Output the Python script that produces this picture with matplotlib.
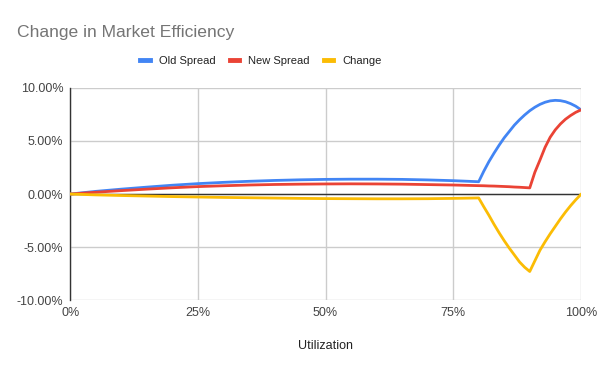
import matplotlib.pyplot as plt
from matplotlib.ticker import FuncFormatter

plt.rcParams['font.family'] = ['Liberation Sans', 'DejaVu Sans']

# utilization (%) and spreads (%)
util = [0, 5, 10, 15, 20, 25, 30, 35, 40, 45, 50, 55, 60, 65, 70, 75,
        80, 81, 82, 83, 84, 85, 86, 87, 88, 89, 90,
        91, 92, 93, 94, 95, 96, 97, 98, 99, 100]
old_spread = [0, 0.25, 0.46, 0.65, 0.83, 0.98, 1.10, 1.20, 1.28, 1.34, 1.38, 1.40, 1.40, 1.38, 1.33, 1.26,
              1.16, 2.15, 3.05, 3.85, 4.6, 5.3, 5.9, 6.5, 7.0, 7.45, 7.85,
              8.18, 8.45, 8.65, 8.78, 8.83, 8.80, 8.70, 8.52, 8.28, 7.95]
new_spread = [0, 0.17, 0.32, 0.46, 0.59, 0.70, 0.78, 0.85, 0.90, 0.93, 0.95, 0.96, 0.95, 0.93, 0.89, 0.85,
              0.79, 0.78, 0.76, 0.75, 0.73, 0.71, 0.69, 0.66, 0.64, 0.61, 0.58,
              2.05, 3.2, 4.4, 5.35, 6.05, 6.6, 7.05, 7.4, 7.7, 7.92]
change = [0, -0.08, -0.14, -0.19, -0.24, -0.28, -0.32, -0.35, -0.38, -0.41, -0.43, -0.44, -0.45, -0.45, -0.44, -0.41,
          -0.37, -1.2, -2.0, -2.85, -3.65, -4.4, -5.1, -5.75, -6.4, -6.9, -7.3,
          -6.3, -5.3, -4.5, -3.75, -3.05, -2.35, -1.7, -1.1, -0.55, -0.05]

x_ticks = [0, 25, 50, 75, 100]
y_ticks = [-10, -5, 0, 5, 10]

fig = plt.figure(figsize=(6, 3.71), dpi=100)
ax = fig.add_axes([0.117, 0.191, 0.851, 0.572])

ax.plot(util, old_spread, color='#4285F4', lw=2, label='Old Spread', zorder=3)
ax.plot(util, new_spread, color='#EA4335', lw=2, label='New Spread', zorder=3)
ax.plot(util, change, color='#FBBC04', lw=2, label='Change', zorder=3)

ax.axhline(0, color='#333333', lw=1, zorder=2)
ax.set_xlim(0, 100)
ax.set_ylim(-10, 10)
ax.set_xticks(x_ticks)
ax.set_yticks(y_ticks)
ax.xaxis.set_major_formatter(FuncFormatter(lambda v, p: f'{v:.0f}%'))
ax.yaxis.set_major_formatter(FuncFormatter(lambda v, p: f'{v:.2f}%'))
ax.grid(True, color='#cccccc', lw=1, zorder=0)
ax.tick_params(length=0, labelsize=9, colors='#444444', pad=5)
for s in ['top', 'right', 'bottom']:
    ax.spines[s].set_visible(False)
ax.spines['left'].set_color('#333333')
ax.spines['left'].set_linewidth(1)

ax.set_xlabel('Utilization', fontsize=9, color='#222222', labelpad=15)

fig.text(0.028, 0.913, 'Change in Market Efficiency', fontsize=12.6, color='#757575', va='center')
leg = fig.legend(loc='center', bbox_to_anchor=(0.435, 0.835), ncol=3, frameon=False, fontsize=8,
                 handlelength=0.85, handletextpad=0.8, columnspacing=1.3, labelcolor='#222222')
for h in leg.get_lines():
    h.set_linewidth(3.5)

fig.savefig('out.png', dpi=100)
